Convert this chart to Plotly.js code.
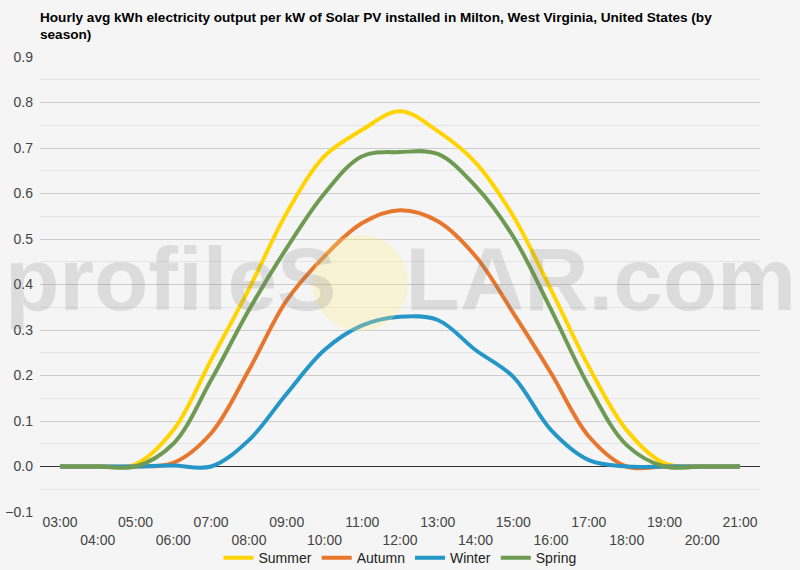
<!DOCTYPE html>
<html>
<head>
<meta charset="utf-8">
<script src="https://cdn.plot.ly/plotly-3.0.1.min.js"></script>
<style>
  html, body { margin: 0; padding: 0; background: #f5f5f5; }
  #my_graph { width: 800px; height: 570px; }
</style>
</head>
<body>
<div id="my_graph"></div>
<script>
const hours = ['03:00', '04:00', '05:00', '06:00', '07:00', '08:00', '09:00', '10:00', '11:00', '12:00',
    '13:00', '14:00', '15:00', '16:00', '17:00', '18:00', '19:00', '20:00', '21:00'];

// even hours go on the second label row
const hourLabels = hours.map((h, i) => i % 2 === 0 ? h : '<br>' + h);

const summer = [0, 0, 0.005, 0.08, 0.234, 0.39, 0.557, 0.682, 0.74, 0.781, 0.737, 0.668, 0.55, 0.388, 0.219, 0.08, 0.007, 0, 0];
const autumn = [0, 0, 0, 0.008, 0.073, 0.212, 0.365, 0.462, 0.535, 0.563, 0.539, 0.462, 0.337, 0.205, 0.066, 0, 0, 0, 0];
const winter = [0, 0, 0, 0.002, 0, 0.058, 0.16, 0.256, 0.31, 0.329, 0.322, 0.256, 0.197, 0.08, 0.014, 0, 0, 0, 0];
const spring = [0, 0, 0, 0.05, 0.19, 0.344, 0.48, 0.6, 0.682, 0.691, 0.687, 0.616, 0.505, 0.345, 0.176, 0.047, 0, 0, 0];

const seasons = ['Summer', 'Autumn', 'Winter', 'Spring'];
const colors = ['#FFD400', '#E8772E', '#2596C8', '#6E9A52'];

const data = [summer, autumn, winter, spring].map((ys, i) => ({
    type: 'scatter',
    mode: 'lines',
    name: seasons[i],
    x: hours,
    y: ys,
    line: {color: colors[i], width: 4, shape: 'spline', smoothing: 1}
}));

const layout = {
    width: 800,
    height: 570,
    paper_bgcolor: '#f5f5f5',
    plot_bgcolor: '#f5f5f5',
    margin: {l: 40, r: 40, t: 57, b: 58},
    font: {family: 'Arial, Liberation Sans, sans-serif', size: 14, color: '#444'},
    title: {
        text: 'Hourly avg kWh electricity output per kW of Solar PV installed in Milton, West Virginia, United States (by<br>season)',
        font: {size: 13.6, color: '#000', weight: 'bold'},
        xref: 'container', x: 0.05, xanchor: 'left',
        yref: 'container', y: 0.962, yanchor: 'top'
    },
    xaxis: {
        type: 'category',
        range: [-0.53, 18.53],
        tickvals: hours,
        ticktext: hourLabels,
        automargin: false,
        showgrid: false,
        zeroline: false,
        showline: false,
        ticks: '',
        tickangle: 0,
        tickfont: {size: 14, color: '#444'}
    },
    yaxis: {
        range: [-0.1, 0.9],
        dtick: 0.1,
        tickformat: '.1f',
        automargin: false,
        gridcolor: '#cccccc',
        gridwidth: 1,
        minor: {dtick: 0.05, showgrid: true, gridcolor: '#e4e4e4', gridwidth: 1},
        zeroline: true,
        zerolinecolor: '#333',
        zerolinewidth: 1,
        ticks: '',
        ticklabelstandoff: 6,
        tickfont: {size: 14, color: '#444'}
    },
    legend: {
        orientation: 'h',
        xref: 'container', x: 0.5, xanchor: 'center',
        yref: 'container', y: 0.021, yanchor: 'middle',
        font: {size: 14, color: '#222'},
        bgcolor: 'rgba(0,0,0,0)'
    },
    shapes: [{
        type: 'circle', xref: 'paper', yref: 'paper',
        x0: 0.378, x1: 0.511, y0: 0.398, y1: 0.609,
        fillcolor: 'rgba(255,238,130,0.28)',
        line: {width: 0},
        layer: 'above'
    }],
    annotations: [{
        xref: 'paper', yref: 'paper',
        x: 0.5, y: 0.512, xanchor: 'center', yanchor: 'middle',
        text: 'profileS<span style="color:rgba(0,0,0,0)">O</span>LAR.com',
        showarrow: false,
        font: {family: 'Arial, Liberation Sans, sans-serif', size: 89, color: 'rgba(120,120,120,0.2)', weight: 'bold'}
    }]
};

const config = {displayModeBar: false, staticPlot: true};

Plotly.newPlot('my_graph', data, layout, config);
</script>
</body>
</html>
